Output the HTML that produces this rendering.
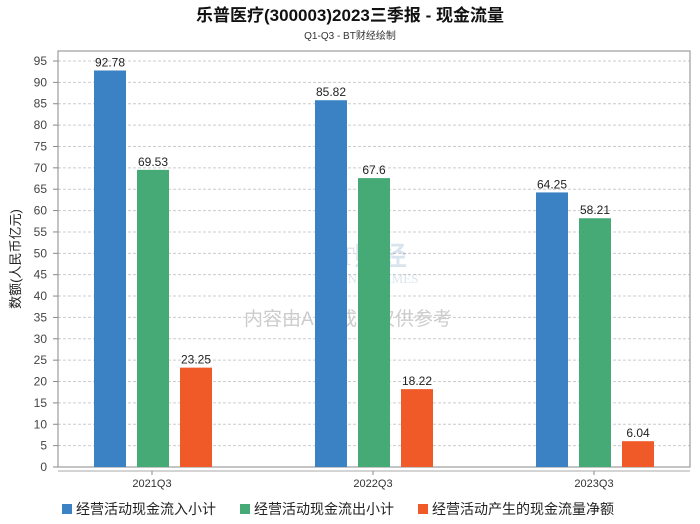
<!DOCTYPE html>
<html><head><meta charset="utf-8"><style>
body{margin:0;background:#fff;}
svg{display:block;font-family:"Liberation Sans","Noto Sans CJK SC",sans-serif;}
</style></head><body>
<svg width="700" height="524">
<text x="350" y="21" text-anchor="middle" font-size="17" font-weight="bold" fill="#111">乐普医疗(300003)2023三季报 - 现金流量</text>
<text x="350" y="39" text-anchor="middle" font-size="10" fill="#333">Q1-Q3 - BT财经绘制</text>
<g id="grid"></g>
<rect x="58" y="51" width="632" height="416" fill="none" stroke="#888" stroke-width="1"/>
<line x1="58" y1="471" x2="690" y2="471" stroke="#aaa"/>
<text transform="translate(20,259) rotate(-90)" text-anchor="middle" font-size="13" fill="#222">数额(人民币亿元)</text>
<g opacity="0.18">
<text x="320" y="265" font-size="26" font-weight="bold" fill="#3a6ea5" font-family="Liberation Serif,serif">BT财经</text>
<text x="318" y="283" font-size="13" fill="#3a6ea5" font-family="Liberation Serif,serif">BUSINESSTIMES</text>
</g>
<text x="348" y="325" text-anchor="middle" font-size="19" fill="#ccc">内容由AI生成，仅供参考</text>
<g id="bars"></g>
<g id="legend"></g>
</svg>
<script>
const categories=["2021Q3","2022Q3","2023Q3"];
const inflow=[92.78,85.82,64.25];
const outflow=[69.53,67.6,58.21];
const netflow=[23.25,18.22,6.04];
const seriesNames=["经营活动现金流入小计","经营活动现金流出小计","经营活动产生的现金流量净额"];
const yTicks=[0,5,10,15,20,25,30,35,40,45,50,55,60,65,70,75,80,85,90,95];
const colors=["#3a82c4","#46aa76","#f05a28"];
const NS="http://www.w3.org/2000/svg";
const y=v=>467-v*(406/95);
const xc=i=>152+221*i;
function mk(t,a,p){const e=document.createElementNS(NS,t);for(const k in a)e.setAttribute(k,a[k]);p.appendChild(e);return e;}
const grid=document.getElementById('grid');
yTicks.forEach(v=>{
  if(v>0){const l=mk('line',{x1:58,x2:690,y1:y(v),y2:y(v),stroke:'#ccc','stroke-dasharray':'3,2'},grid);
  
  }
  const t=mk('text',{x:47,y:y(v)+4,'text-anchor':'end','font-size':12,fill:'#444'},grid);t.textContent=v;
  
  
  const tk=mk('line',{x1:53,x2:58,y1:y(v),y2:y(v),stroke:'#888'},grid);
  
  
});
const bars=document.getElementById('bars');
const series=[inflow,outflow,netflow];
categories.forEach((c,i)=>{
  const t=mk('text',{x:xc(i),y:487,'text-anchor':'middle','font-size':11,fill:'#333'},bars);t.textContent=c;
  
  
  const tk=mk('line',{x1:xc(i),x2:xc(i),y1:471,y2:475,stroke:'#888'},bars);
  
  
  series.forEach((s,j)=>{
    const bx=xc(i)-58+43*j;
    const r=mk('rect',{x:bx,y:y(s[i]),width:32,height:467-y(s[i]),fill:colors[j]},bars);
    
    
    const lb=mk('text',{x:bx+16,y:y(s[i])-4,'text-anchor':'middle','font-size':12,fill:'#222'},bars);lb.textContent=s[i];
    
    
  });
});
const lg=document.getElementById('legend');
const lx=[62,240,418];
seriesNames.forEach((n,j)=>{
  const r=mk('rect',{x:lx[j],y:504,width:10,height:10,fill:colors[j]},lg);
  
  
  const t=mk('text',{x:lx[j]+14,y:514,'font-size':14,fill:'#222'},lg);t.textContent=n;
  
  
});
</script>
</body></html>
